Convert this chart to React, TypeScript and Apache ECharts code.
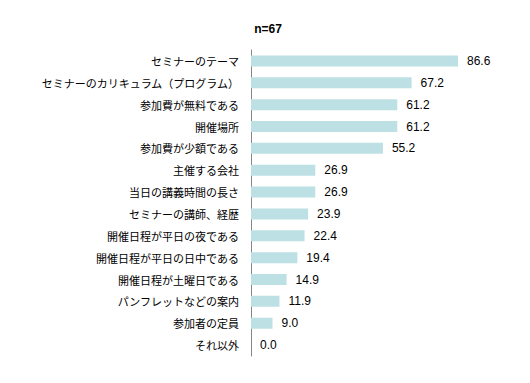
import React, { useEffect, useRef } from "react";
import * as echarts from "echarts";

const categories = [
  "セミナーのテーマ",
  "セミナーのカリキュラム（プログラム）",
  "参加費が無料である",
  "開催場所",
  "参加費が少額である",
  "主催する会社",
  "当日の講義時間の長さ",
  "セミナーの講師、経歴",
  "開催日程が平日の夜である",
  "開催日程が平日の日中である",
  "開催日程が土曜日である",
  "パンフレットなどの案内",
  "参加者の定員",
  "それ以外",
];
const values = [86.6, 67.2, 61.2, 61.2, 55.2, 26.9, 26.9, 23.9, 22.4, 19.4, 14.9, 11.9, 9.0, 0.0];
const titleText = "n=67";

export default function App() {
  const ref = useRef<HTMLDivElement>(null);
  useEffect(() => {
    if (!ref.current) return;
    const chart = echarts.init(ref.current, null, { renderer: "svg" });
    chart.setOption({
      animation: false,
      backgroundColor: "#ffffff",
      title: {
        text: titleText,
        left: 255,
        top: 10,
        textAlign: "center",
        textStyle: { fontSize: 12, fontWeight: "bold", color: "#000", fontFamily: "Arial, 'Liberation Sans', sans-serif" },
      },
      grid: { left: 243, top: 42, width: 239, height: 306, containLabel: false },
      xAxis: {
        type: "value",
        min: 0,
        max: 100,
        show: false,
      },
      yAxis: {
        type: "category",
        inverse: true,
        data: categories,
        axisLine: { show: true, lineStyle: { color: "#868686", width: 1 } },
        axisTick: { show: false },
        axisLabel: {
          color: "#000",
          fontSize: 11,
          margin: 12,
          fontFamily: "'Noto Sans CJK JP', sans-serif",
        },
      },
      series: [
        {
          type: "bar",
          data: values,
          barWidth: 11,
          itemStyle: { color: "#bce0e3" },
          label: {
            show: true,
            position: "right",
            distance: 9,
            color: "#000",
            fontSize: 12,
            fontFamily: "Arial, 'Liberation Sans', sans-serif",
            formatter: (p: any) => Number(p.value).toFixed(1),
          },
        },
      ],
    });
    return () => chart.dispose();
  }, []);
  return <div ref={ref} style={{ width: 530, height: 383 }} />;
}
